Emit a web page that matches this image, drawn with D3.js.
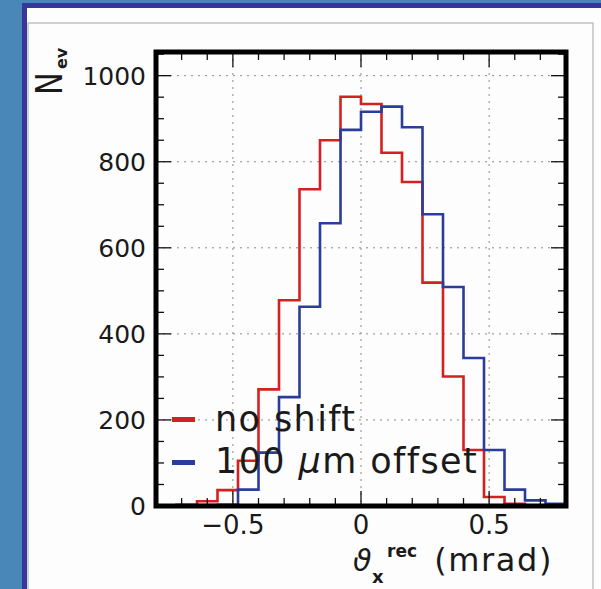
<!DOCTYPE html>
<html>
<head>
<meta charset="utf-8">
<script src="https://cdn.jsdelivr.net/npm/d3@7"></script>
<style>
  body { margin: 0; background: #fdfdfd; }
  svg { display: block; }
  text { font-family: "DejaVu Sans", sans-serif; fill: #1a1a1a; }
</style>
</head>
<body>
<div id="root"></div>
<script>
// bin edges (mrad) and counts per bin
const binEdges = [-0.8, -0.72, -0.64, -0.56, -0.48, -0.4, -0.32, -0.24, -0.16, -0.08, 0,
  0.08, 0.16, 0.24, 0.32, 0.4, 0.48, 0.56, 0.64, 0.72, 0.8];
const noShift = [0, 3, 11, 37, 105, 271, 478, 736, 850, 951, 934, 821, 753, 519, 301, 130, 21, 5, 1, 0];
const offset100 = [0, 1, 2, 3, 38, 124, 253, 463, 657, 874, 916, 928, 880, 678, 509, 344, 130, 38, 13, 5];
const seriesNames = ['no shift', '100 μm offset'];
const seriesColors = ['#d42020', '#2b3d9b'];
const xTickLabels = [-0.5, 0, 0.5];
const yTickLabels = [0, 200, 400, 600, 800, 1000];

const width = 601;
const height = 589;
const plot = { left: 156, right: 566, top: 52, bottom: 506 };

const svg = d3.select('#root')
  .append('svg')
  .attr('width', width)
  .attr('height', height);

// window chrome
svg.append('rect').attr('x', 0).attr('y', 0).attr('width', width).attr('height', height).attr('fill', '#fdfdfd');
svg.append('rect').attr('x', 0).attr('y', 0).attr('width', 22).attr('height', height).attr('fill', '#4a87b9');
svg.append('rect').attr('x', 0).attr('y', 0).attr('width', width).attr('height', 3).attr('fill', '#4a87b9');
svg.append('rect').attr('x', 22).attr('y', 3).attr('width', 5).attr('height', height).attr('fill', '#36369b');
svg.append('rect').attr('x', 22).attr('y', 3).attr('width', width - 22).attr('height', 5).attr('fill', '#36369b');
svg.append('rect')
  .attr('x', 28).attr('y', 23).attr('width', 565).attr('height', 600)
  .attr('fill', 'none').attr('stroke', '#b4b4b4').attr('stroke-width', 1.2);

const x = d3.scaleLinear().domain([-0.8, 0.8]).range([plot.left, plot.right]);
const y = d3.scaleLinear().domain([0, 1055]).range([plot.bottom, plot.top]);

// grid
svg.append('g')
  .selectAll('line')
  .data(xTickLabels)
  .enter()
  .append('line')
  .attr('x1', (d) => x(d)).attr('x2', (d) => x(d))
  .attr('y1', plot.top).attr('y2', plot.bottom)
  .attr('stroke', '#8a8a8a').attr('stroke-width', 1).attr('stroke-dasharray', '2,5');
svg.append('g')
  .selectAll('line')
  .data(yTickLabels.slice(1))
  .enter()
  .append('line')
  .attr('y1', (d) => y(d)).attr('y2', (d) => y(d))
  .attr('x1', plot.left).attr('x2', plot.right)
  .attr('stroke', '#8a8a8a').attr('stroke-width', 1).attr('stroke-dasharray', '2,5');

// histograms
svg.append('clipPath').attr('id', 'clip')
  .append('rect')
  .attr('x', plot.left).attr('y', plot.top)
  .attr('width', plot.right - plot.left).attr('height', plot.bottom - plot.top);

const step = d3.line()
  .x((d) => x(d[0]))
  .y((d) => y(d[1]))
  .curve(d3.curveStepAfter);

[noShift, offset100].forEach((values, k) => {
  const pts = binEdges.map((e, i) => [e, values[Math.min(i, values.length - 1)]]);
  svg.append('path')
    .attr('d', step(pts))
    .attr('clip-path', 'url(#clip)')
    .attr('fill', 'none')
    .attr('stroke', seriesColors[k])
    .attr('stroke-width', 2.6);
});

// ticks
const xMinor = x.ticks(16);
const yMinor = d3.range(0, 1051, 50);
const isMajorX = (d) => Math.abs(d * 2 - Math.round(d * 2)) < 1e-6;
const ticks = svg.append('g').attr('stroke', '#111').attr('stroke-width', 1.3);
xMinor.forEach((d) => {
  const len = isMajorX(d) ? 15 : 8;
  ticks.append('line').attr('x1', x(d)).attr('x2', x(d)).attr('y1', plot.bottom).attr('y2', plot.bottom - len);
  ticks.append('line').attr('x1', x(d)).attr('x2', x(d)).attr('y1', plot.top).attr('y2', plot.top + len);
});
yMinor.forEach((d) => {
  const len = d % 200 === 0 ? 15 : 8;
  ticks.append('line').attr('y1', y(d)).attr('y2', y(d)).attr('x1', plot.left).attr('x2', plot.left + len);
  ticks.append('line').attr('y1', y(d)).attr('y2', y(d)).attr('x1', plot.right).attr('x2', plot.right - len);
});

// frame
svg.append('rect')
  .attr('x', plot.left).attr('y', plot.top)
  .attr('width', plot.right - plot.left).attr('height', plot.bottom - plot.top)
  .attr('fill', 'none').attr('stroke', '#000').attr('stroke-width', 5);

// tick labels
svg.append('g')
  .selectAll('text')
  .data(xTickLabels)
  .enter()
  .append('text')
  .attr('x', (d) => x(d))
  .attr('y', 534)
  .attr('text-anchor', 'middle')
  .attr('font-size', '26px')
  .text((d) => (d < 0 ? '\u2212' : '') + (d === 0 ? '0' : Math.abs(d)));

svg.append('g')
  .selectAll('text')
  .data(yTickLabels)
  .enter()
  .append('text')
  .attr('x', 146)
  .attr('y', (d) => y(d) + 9)
  .attr('text-anchor', 'end')
  .attr('font-size', '25px')
  .text((d) => d);

// axis titles
svg.append('text')
  .attr('transform', 'translate(62,95) rotate(-90) scale(0.8,1)')
  .attr('font-size', '38px')
  .text('N');
svg.append('text')
  .attr('transform', 'translate(67,69) rotate(-90)')
  .attr('font-size', '16px')
  .attr('font-weight', 'bold')
  .text('ev');

svg.append('text')
  .attr('x', 353).attr('y', 571)
  .attr('font-size', '30px')
  .attr('font-style', 'italic')
  .text('ϑ');
svg.append('text')
  .attr('x', 372).attr('y', 583)
  .attr('font-size', '18px')
  .attr('font-weight', 'bold')
  .text('x');
svg.append('text')
  .attr('x', 387).attr('y', 557)
  .attr('font-size', '17px')
  .attr('font-weight', 'bold')
  .text('rec');
svg.append('text')
  .attr('x', 553).attr('y', 571)
  .attr('text-anchor', 'end')
  .attr('font-size', '32px')
  .attr('letter-spacing', '1.6px')
  .text('(mrad)');

// legend
const legendY = [419.5, 462.5];
const legend = svg.append('g');
legend.selectAll('line')
  .data(seriesNames)
  .enter()
  .append('line')
  .attr('x1', 172).attr('x2', 195)
  .attr('y1', (_d, i) => legendY[i]).attr('y2', (_d, i) => legendY[i])
  .attr('stroke', (_d, i) => seriesColors[i])
  .attr('stroke-width', 5);

legend.append('text')
  .attr('x', 215).attr('y', 431)
  .attr('font-size', '35px')
  .attr('letter-spacing', '1.4px')
  .text(seriesNames[0]);
const t2 = legend.append('text')
  .attr('x', 215).attr('y', 473)
  .attr('font-size', '35px')
  .attr('letter-spacing', '1.4px');
t2.append('tspan').text('100 ');
t2.append('tspan').attr('font-style', 'italic').text('μ');
t2.append('tspan').text('m offset');
</script>
</body>
</html>
